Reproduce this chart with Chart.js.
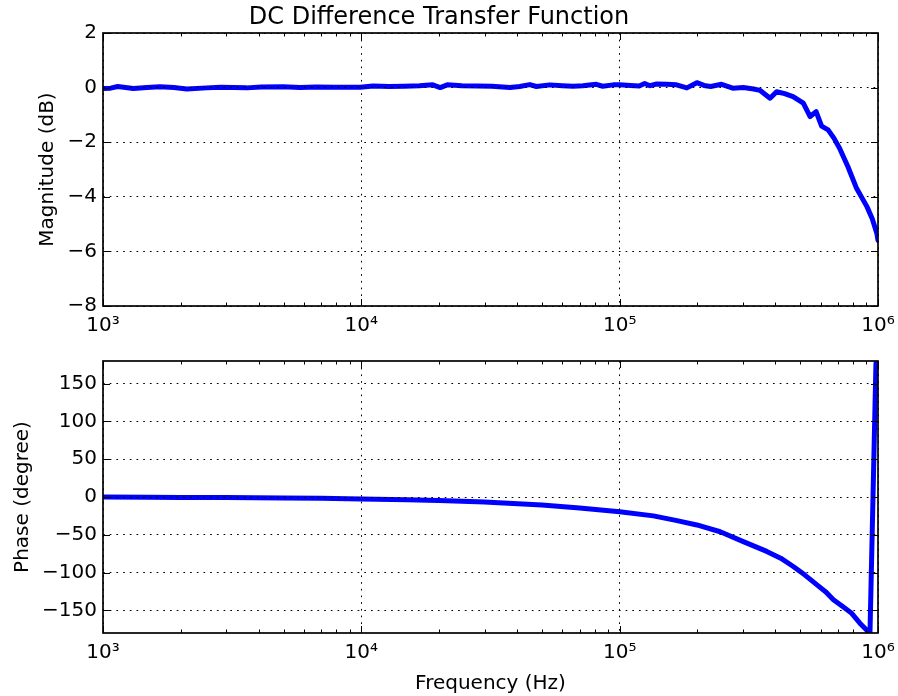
<!DOCTYPE html>
<html>
<head>
<meta charset="utf-8">
<script src="https://cdn.jsdelivr.net/npm/chart.js@4/dist/chart.umd.min.js"></script>
<style>
  body { margin: 0; background: #fff; }
  canvas { position: absolute; left: 0; }
  #magChart { top: 0; }
  #phaseChart { top: 340px; }
</style>
</head>
<body>
<canvas id="magChart" width="898" height="340"></canvas>
<canvas id="phaseChart" width="898" height="356"></canvas>
<script>
'use strict';
// значения
const magFreq = [1000, 1070, 1140, 1310, 1480, 1660, 1880, 2110, 2520, 2850, 3190, 3600, 4100, 4970,
  5800, 6700, 7800, 9900, 11100, 12800, 14700, 16800, 18900, 20200, 21500, 24500, 28000, 32000,
  37600, 41000, 44900, 47600, 53600, 60000, 66000, 72000, 81200, 86000, 94400, 100000, 110000,
  119000, 125000, 131000, 139000, 152000, 166000, 182000, 199000, 212000, 225000, 248000, 274000,
  301000, 330000, 349000, 382000, 405000, 435000, 469000, 514000, 546000, 576000, 605000, 641000,
  675000, 710000, 765000, 826000, 906000, 950000, 990000, 1000000];
const magDb = [-0.03, -0.02, 0.04, -0.03, 0.0, 0.03, 0.0, -0.05, -0.01, 0.01, 0.0, -0.01, 0.02, 0.03,
  0.0, 0.02, 0.01, 0.01, 0.06, 0.04, 0.05, 0.07, 0.1, 0.0, 0.1, 0.07, 0.06, 0.05,
  0.0, 0.04, 0.11, 0.04, 0.1, 0.07, 0.05, 0.07, 0.12, 0.05, 0.1, 0.1, 0.08,
  0.06, 0.15, 0.07, 0.13, 0.12, 0.1, -0.01, 0.18, 0.08, 0.04, 0.12, -0.02,
  0.0, -0.05, -0.1, -0.39, -0.15, -0.22, -0.33, -0.57, -1.06, -0.88, -1.41, -1.55,
  -1.85, -2.22, -2.9, -3.69, -4.36, -4.8, -5.34, -5.6];

const phaseFreq = [1000, 1500, 2000, 3000, 5000, 7000, 10000, 15000, 20000, 30000, 34000, 50000,
  70000, 100000, 135000, 165000, 199000, 245000, 301000, 371000, 420000, 470000, 520000, 579000,
  630000, 672000, 730000, 791000, 851000, 903000, 931000, 982000, 1000000];
const phaseDeg = [0, -0.3, -0.5, -0.8, -1.3, -1.8, -2.5, -3.5, -4.7, -6.5, -7.5, -10.5,
  -14.5, -19.5, -25, -31, -37, -46, -59, -72, -81, -92, -103, -116,
  -126, -136, -145, -154, -167, -176, -180, 177, 178];

const freqTicks = [1e3, 1e4, 1e5, 1e6];
const magTicks = [-8, -6, -4, -2, 0, 2];
const phaseTicks = [-150, -100, -50, 0, 50, 100, 150];
const minorSteps = [2, 3, 4, 5, 6, 7, 8, 9];

const FONT = 'DejaVu Sans';
const SUP = {'0': '\u2070', '1': '\u00b9', '2': '\u00b2', '3': '\u00b3', '4': '\u2074',
  '5': '\u2075', '6': '\u2076', '7': '\u2077', '8': '\u2078', '9': '\u2079'};

function powerLabel(value) {
  const e = Math.round(Math.log10(value));
  return '10' + String(e).split('').map(c => SUP[c]).join('');
}

function minusLabel(value) {
  return String(value).replace('-', '\u2212');
}

// рамка и засечки внутрь, как в matplotlib
const framePlugin = {
  id: 'frame',
  afterDraw(chart) {
    const {ctx, chartArea: a, scales: {x, y}} = chart;
    ctx.save();
    ctx.strokeStyle = '#000';
    ctx.lineWidth = 1;
    ctx.beginPath();
    freqTicks.forEach(v => {
      const px = Math.round(x.getPixelForValue(v)) + 0.5;
      ctx.moveTo(px, a.bottom); ctx.lineTo(px, a.bottom - 7);
      ctx.moveTo(px, a.top); ctx.lineTo(px, a.top + 7);
    });
    freqTicks.slice(0, -1).forEach(d => {
      minorSteps.forEach(m => {
        const px = Math.round(x.getPixelForValue(m * d)) + 0.5;
        ctx.moveTo(px, a.bottom); ctx.lineTo(px, a.bottom - 3.5);
        ctx.moveTo(px, a.top); ctx.lineTo(px, a.top + 3.5);
      });
    });
    y.ticks.forEach(t => {
      const py = Math.round(y.getPixelForValue(t.value)) + 0.5;
      ctx.moveTo(a.left, py); ctx.lineTo(a.left + 7, py);
      ctx.moveTo(a.right, py); ctx.lineTo(a.right - 7, py);
    });
    ctx.stroke();
    ctx.lineWidth = 1.7;
    ctx.strokeRect(a.left, a.top, a.right - a.left, a.bottom - a.top);
    ctx.restore();
  }
};

function makeChart(id, freq, values, yTicks, yMin, yMax, opt) {
  const points = freq.map((f, i) => ({x: f, y: values[i]}));
  return new Chart(document.getElementById(id), {
    type: 'line',
    data: {
      datasets: [{
        data: points,
        borderColor: '#0000ff',
        borderWidth: 5,
        pointRadius: 0,
        fill: false,
        tension: 0,
        borderJoinStyle: 'round',
        borderCapStyle: 'round'
      }]
    },
    options: {
      responsive: false,
      animation: false,
      layout: {padding: {left: 0, right: 20, top: opt.padTop, bottom: 0}},
      plugins: {
        legend: {display: false},
        tooltip: {enabled: false},
        title: opt.title ? {
          display: true,
          text: opt.title,
          color: '#000',
          font: {family: FONT, size: 24, weight: 'normal', lineHeight: 1.25},
          padding: {top: 3, bottom: 0}
        } : {display: false}
      },
      scales: {
        x: {
          type: 'logarithmic',
          min: 1e3,
          max: 1e6,
          afterBuildTicks: s => { s.ticks = freqTicks.map(v => ({value: v})); },
          afterFit: s => {
            s.height = opt.xHeight;
            s.paddingLeft = 0;
            s.paddingRight = 0;
          },
          ticks: {
            color: '#000',
            padding: 8,
            maxRotation: 0,
            autoSkip: false,
            font: {family: FONT, size: 20},
            callback: v => powerLabel(v)
          },
          grid: {color: '#000', lineWidth: 1, drawTicks: false, z: 1},
          border: {display: false, dash: [1.7, 5]},
          title: opt.xTitle ? {
            display: true,
            text: opt.xTitle,
            color: '#000',
            font: {family: FONT, size: 20},
            padding: {top: 0, bottom: 0}
          } : {display: false}
        },
        y: {
          type: 'linear',
          min: yMin,
          max: yMax,
          afterBuildTicks: s => { s.ticks = yTicks.map(v => ({value: v})); },
          afterFit: s => {
            s.width = 103;
            s.paddingTop = 0;
            s.paddingBottom = 0;
          },
          ticks: {
            color: '#000',
            padding: 6,
            autoSkip: false,
            font: {family: FONT, size: 20},
            callback: v => minusLabel(v)
          },
          grid: {color: '#000', lineWidth: 1, drawTicks: false, z: 1},
          border: {display: false, dash: [1.7, 5]},
          title: {
            display: true,
            text: opt.yTitle,
            color: '#000',
            font: {family: FONT, size: 20},
            padding: {top: opt.yTitlePad, bottom: 0}
          }
        }
      }
    },
    plugins: [framePlugin]
  });
}

makeChart('magChart', magFreq, magDb, magTicks, -8, 2, {
  title: 'DC Difference Transfer Function',
  padTop: 0,
  xHeight: 34,
  yTitle: 'Magnitude (dB)',
  yTitlePad: 36
});

makeChart('phaseChart', phaseFreq, phaseDeg, phaseTicks, -180, 180, {
  padTop: 21,
  xHeight: 63,
  xTitle: 'Frequency (Hz)',
  yTitle: 'Phase (degree)',
  yTitlePad: 11
});
</script>
</body>
</html>
